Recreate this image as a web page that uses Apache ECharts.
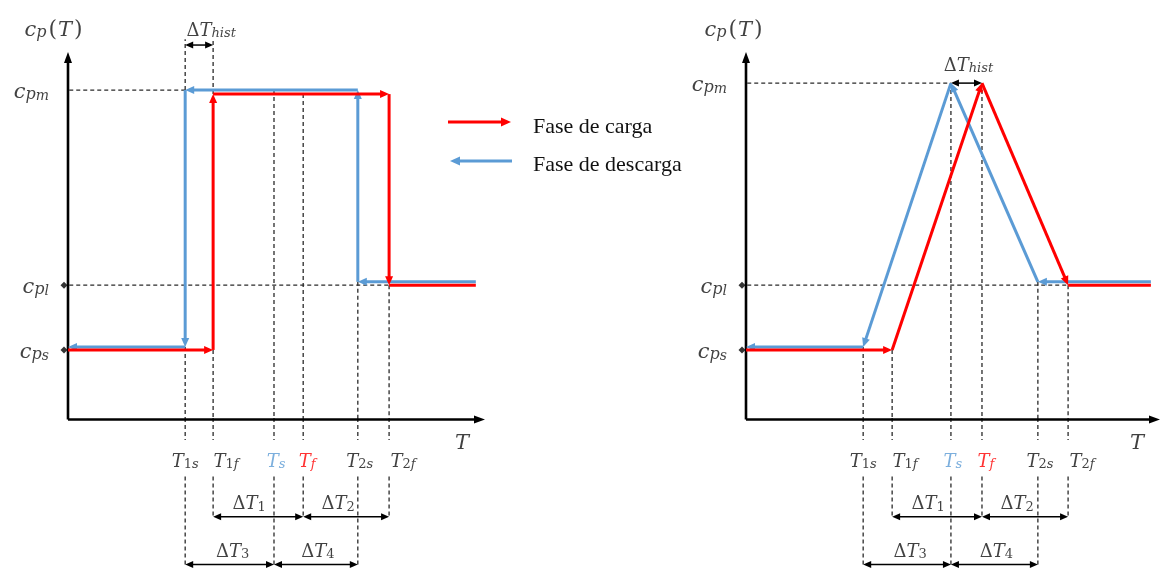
<!DOCTYPE html>
<html>
<head>
<meta charset="utf-8">
<script src="https://cdn.jsdelivr.net/npm/echarts@6/dist/echarts.min.js"></script>
<style>
  html, body { margin: 0; padding: 0; background: #fff; }
  #chart { width: 1163px; height: 570px; }
</style>
</head>
<body>
<div id="chart"></div>
<script>
// Transition temperatures (arbitrary units): T1s, T1f, Ts, Tf, T2s, T2f
const stepTemps = [28.1, 34.8, 49.4, 56.4, 69.5, 77.0];
const peakTemps = [28.3, 35.3, 49.5, 57.0, 70.5, 77.8];
// Specific heat levels [cp_s, cp_l, cp_m] followed by each phase
const stepChargeCp = [18.6, 36.3, 88.5];
const stepDischargeCp = [19.4, 37.2, 89.6];
const peakChargeCp = [18.6, 36.3, 91.5];
const peakDischargeCp = [19.4, 37.2, 91.5];
// Plotted temperature range
const tRange = [0, 97.8];
// Label texts (subscripts)
const tickSubs = ['1s', '1f', 's', 'f', '2s', '2f'];
const levelSubs = ['s', 'l', 'm'];
const spanSubs = ['1', '2', '3', '4'];
const histSub = 'hist';
// Spans between transition temperatures: [from, to] indices into the temperature list
const spanPairs = [[1, 3], [3, 5], [0, 2], [2, 4]];
const seriesNames = ['Fase de carga', 'Fase de descarga'];

const RED = '#ff0000';
const BLUE = '#5b9bd5';
const INK = '#111111';
const MATH = "'DejaVu Serif', serif";

// layout constants in axis units (below / above the plot)
const TICK_END = -6;
const EXT_START = -16;
const ROW1 = -27;
const ROW2 = -40;
const TOP_GUIDE = 103.5;
const HIST_ROW = 101.9;

const rich = {
  m: { fontFamily: MATH, fontStyle: 'italic', fontSize: 18, lineHeight: 24, verticalAlign: 'bottom' },
  u: { fontFamily: MATH, fontSize: 18, lineHeight: 24, verticalAlign: 'bottom' },
  s: { fontFamily: MATH, fontStyle: 'italic', fontSize: 13, lineHeight: 14, verticalAlign: 'bottom' },
  d: { fontFamily: MATH, fontSize: 13, lineHeight: 14, verticalAlign: 'bottom' },
  // axis title c_p(T)
  tm: { fontFamily: MATH, fontStyle: 'italic', fontSize: 21, lineHeight: 28, verticalAlign: 'bottom' },
  tu: { fontFamily: MATH, fontSize: 22, lineHeight: 28, verticalAlign: 'bottom', padding: [0, 1, 0, 2] },
  tp: { fontFamily: MATH, fontStyle: 'italic', fontSize: 16, lineHeight: 16, verticalAlign: 'bottom' },
  // level labels c_{p_x}
  c: { fontFamily: MATH, fontStyle: 'italic', fontSize: 21, lineHeight: 34, verticalAlign: 'bottom' },
  p: { fontFamily: MATH, fontStyle: 'italic', fontSize: 16, lineHeight: 22, verticalAlign: 'bottom' },
  q: { fontFamily: MATH, fontStyle: 'italic', fontSize: 14, lineHeight: 8, verticalAlign: 'bottom' }
};

function subTokens(str) {
  return str.replace(/(\d+)|([^\d]+)/g, (all, dig, txt) => dig ? `{d|${dig}}` : `{s|${txt}}`);
}
const tickText = (sub) => `{m|T}` + subTokens(sub);
const deltaText = (sub) => `{u|Δ}{m|T}` + subTokens(sub);
const levelText = (sub) => `{c|c}{p|p}{q|${sub}}`;
const cpText = `{tm|c}{tp|p}{tu|(}{tm|T}{tu|)}`;

// custom series drawing straight segments, with optional arrowheads
function segmentSeries(name, gi, segs, st) {
  return {
    type: 'custom', name, xAxisIndex: gi, yAxisIndex: gi, clip: false, silent: true,
    data: segs, encode: { x: [0, 2], y: [1, 3] }, z: st.z || 2,
    renderItem(params, api) {
      const a = api.coord([api.value(0), api.value(1)]);
      const b = api.coord([api.value(2), api.value(3)]);
      const endHead = api.value(4), startHead = api.value(5);
      const dx = b[0] - a[0], dy = b[1] - a[1];
      const len = Math.hypot(dx, dy) || 1;
      const ux = dx / len, uy = dy / len;
      const L = st.head ? st.head[0] : 0, W = st.head ? st.head[1] : 0;
      const head = (tip, vx, vy) => {
        const bx = tip[0] - vx * L, by = tip[1] - vy * L;
        const nx = -vy, ny = vx;
        return { type: 'polygon', shape: { points: [tip, [bx + nx * W / 2, by + ny * W / 2], [bx - nx * W / 2, by - ny * W / 2]] },
                 style: { fill: st.color } };
      };
      let p0 = a, p1 = b;
      const children = [];
      if (endHead) { children.push(head(b, ux, uy)); p1 = [b[0] - ux * L * 0.6, b[1] - uy * L * 0.6]; }
      if (startHead) { children.push(head(a, -ux, -uy)); p0 = [a[0] + ux * L * 0.6, a[1] + uy * L * 0.6]; }
      children.unshift({
        type: 'line', shape: { x1: p0[0], y1: p0[1], x2: p1[0], y2: p1[1] },
        style: { stroke: st.color, lineWidth: st.width, lineDash: st.dash || null, lineCap: st.cap || 'butt' }
      });
      return { type: 'group', children };
    }
  };
}

// polyline -> segments, arrows[i] tells whether segment i ends with an arrowhead
function pathSegments(points, arrows) {
  const out = [];
  for (let i = 0; i < points.length - 1; i++) {
    out.push([points[i][0], points[i][1], points[i + 1][0], points[i + 1][1], arrows[i] ? 1 : 0, 0]);
  }
  return out;
}

function labelSeries(gi, items, extra) {
  return Object.assign({
    type: 'scatter', xAxisIndex: gi, yAxisIndex: gi, clip: false, silent: true,
    symbolSize: 0, z: 5,
    label: { show: true, position: 'inside', rich, color: INK },
    data: items
  }, extra || {});
}

function buildPanel(gi, T, C, D, kind) {
  const series = [];
  const [t0, t1] = tRange;
  // axes with arrows
  series.push(segmentSeries('axes', gi, [[0, -0.4, 100, -0.4, 1, 0], [0, -0.4, 0, 100, 1, 0]],
    { color: '#000', width: 2.6, head: [11, 8], z: 3 }));

  // charge / discharge paths
  let charge, discharge;
  if (kind === 'step') {
    charge = [[t0, C[0]], [T[1], C[0]], [T[1], C[2]], [T[5], C[2]], [T[5], C[1]], [t1, C[1]]];
    discharge = [[t1, D[1]], [T[4], D[1]], [T[4], D[2]], [T[0], D[2]], [T[0], D[0]], [t0, D[0]]];
  } else {
    charge = [[t0, C[0]], [T[1], C[0]], [T[3], C[2]], [T[5], C[1]], [t1, C[1]]];
    discharge = [[t1, D[1]], [T[4], D[1]], [T[2], D[2]], [T[0], D[0]], [t0, D[0]]];
  }
  const chargeArrows = charge.slice(1).map((p, i) => i < charge.length - 2);
  const dischargeArrows = discharge.slice(1).map(() => true);

  // guide lines (dashed)
  const guides = [];
  guides.push([0.3, D[2], kind === 'step' ? T[0] : T[2], D[2], 0, 0]);
  guides.push([0.3, C[1], T[5], C[1], 0, 0]);
  const fromLevel = [D[0], C[0], D[2], C[2], D[1], C[1]];
  T.forEach((t, i) => {
    guides.push([t, fromLevel[i], t, 0, 0, 0]);
    guides.push([t, 0, t, TICK_END, 0, 0]);
    guides.push([t, EXT_START, t, (i % 2 === 0) ? ROW2 - 0.5 : ROW1 - 0.4, 0, 0]);
  });
  if (kind === 'step') {
    guides.push([T[0], D[2], T[0], TOP_GUIDE, 0, 0]);
    guides.push([T[1], C[2], T[1], TOP_GUIDE, 0, 0]);
  }
  series.push(segmentSeries('guides', gi, guides, { color: '#2a2a2a', width: 1.3, dash: [4, 3], z: 1 }));

  // dimension arrows
  const dims = spanPairs.map(([a, b], k) => [T[a], k < 2 ? ROW1 : ROW2, T[b], k < 2 ? ROW1 : ROW2, 1, 1]);
  const histY = kind === 'step' ? HIST_ROW : D[2];
  const histPair = kind === 'step' ? [T[0], T[1]] : [T[2], T[3]];
  dims.push([histPair[0], histY, histPair[1], histY, 1, 1]);
  series.push(segmentSeries('dims', gi, dims, { color: '#000', width: 1.5, head: [8, 7], z: 3 }));

  series.push(segmentSeries(seriesNames[1], gi, pathSegments(discharge, dischargeArrows),
    { color: BLUE, width: 3, head: [9, 8], z: 4 }));
  series.push(segmentSeries(seriesNames[0], gi, pathSegments(charge, chargeArrows),
    { color: RED, width: 3, head: [9, 8], z: 4 }));

  // level markers on the vertical axis
  series.push({
    type: 'scatter', xAxisIndex: gi, yAxisIndex: gi, clip: false, silent: true, z: 6,
    symbol: 'diamond', symbolSize: [7, 7], symbolOffset: [-4, 0],
    itemStyle: { color: '#000' },
    data: [[0, C[0]], [0, C[1]]]
  });

  // tick labels
  const tickDx = [0, 13, 2, 4, 2, 14];
  const tickColors = [INK, INK, BLUE, RED, INK, INK];
  series.push(labelSeries(gi, T.map((t, i) => ({
    value: [t, 0],
    label: { formatter: tickText(tickSubs[i]), color: tickColors[i], offset: [tickDx[i], 41] }
  }))));

  // span labels
  const spanDx = [-9, -8, 3, 2];
  const items = spanPairs.map(([a, b], k) => ({
    value: [(T[a] + T[b]) / 2, k < 2 ? ROW1 : ROW2],
    label: { formatter: deltaText(spanSubs[k]), offset: [spanDx[k], -15] }
  }));
  items.push({
    value: [(histPair[0] + histPair[1]) / 2, histY],
    label: { formatter: deltaText(histSub), offset: kind === 'step' ? [12, -17] : [2, -20] }
  });
  // axis titles
  items.push({ value: [0, 100], label: { formatter: cpText, offset: kind === 'step' ? [-14, -25] : [-12, -25] } });
  items.push({ value: [100, 0], label: { formatter: '{tm|T}', offset: [-23, 22] } });
  series.push(labelSeries(gi, items));

  // level labels, right-aligned left of the axis
  const lv = [C[0], C[1], D[2]];
  series.push(labelSeries(gi, levelSubs.map((s, i) => ({
    value: [0, lv[i]],
    label: { formatter: levelText(s), align: 'right', offset: [-19, -4] }
  }))));
  return series;
}

const chart = echarts.init(document.getElementById('chart'), null, { renderer: 'canvas' });
const axisX = (gi) => ({ gridIndex: gi, type: 'value', min: 0, max: 100, show: false });
chart.setOption({
  backgroundColor: '#ffffff',
  animation: false,
  grid: [
    { left: 68, top: 52, width: 417, height: 366 },
    { left: 746, top: 52, width: 414, height: 366 }
  ],
  xAxis: [axisX(0), axisX(1)],
  yAxis: [axisX(0), axisX(1)],
  series: [
    ...buildPanel(0, stepTemps, stepChargeCp, stepDischargeCp, 'step'),
    ...buildPanel(1, peakTemps, peakChargeCp, peakDischargeCp, 'peak')
  ],
  graphic: [
    { type: 'line', shape: { x1: 448, y1: 122, x2: 504, y2: 122 }, style: { stroke: RED, lineWidth: 3 } },
    { type: 'polygon', shape: { points: [[511, 122], [501, 117.5], [501, 126.5]] }, style: { fill: RED } },
    { type: 'line', shape: { x1: 457, y1: 161, x2: 512, y2: 161 }, style: { stroke: BLUE, lineWidth: 3 } },
    { type: 'polygon', shape: { points: [[450, 161], [460, 156.5], [460, 165.5]] }, style: { fill: BLUE } },
    { type: 'text', x: 533, y: 127, style: { text: seriesNames[0], fontFamily: "'Liberation Serif', serif", fontSize: 22,
      fill: INK, verticalAlign: 'middle', textVerticalAlign: 'middle' } },
    { type: 'text', x: 533, y: 165, style: { text: seriesNames[1], fontFamily: "'Liberation Serif', serif", fontSize: 22,
      fill: INK, verticalAlign: 'middle', textVerticalAlign: 'middle' } }
  ]
});
</script>
</body>
</html>
